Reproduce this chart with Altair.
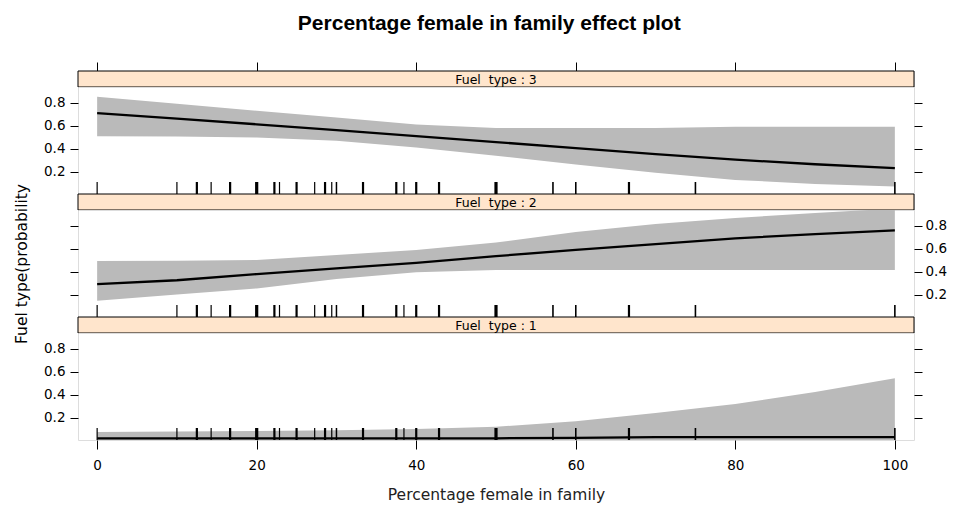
import altair as alt
import pandas as pd

# ---------------- data ----------------
x_grid = [0, 10, 20, 30, 40, 50, 60, 70, 80, 90, 100]

fit3 = [0.710, 0.662, 0.612, 0.561, 0.510, 0.457, 0.404, 0.352, 0.304, 0.264, 0.231]
up3 = [0.852, 0.791, 0.730, 0.671, 0.610, 0.579, 0.579, 0.579, 0.591, 0.591, 0.591]
lo3 = [0.507, 0.505, 0.497, 0.468, 0.411, 0.339, 0.262, 0.190, 0.128, 0.092, 0.070]

fit2 = [0.291, 0.325, 0.379, 0.429, 0.476, 0.535, 0.589, 0.639, 0.690, 0.727, 0.760]
up2 = [0.493, 0.496, 0.502, 0.546, 0.589, 0.654, 0.745, 0.815, 0.868, 0.911, 0.950]
lo2 = [0.146, 0.201, 0.254, 0.335, 0.394, 0.414, 0.414, 0.414, 0.414, 0.414, 0.414]

fit1 = [0.020, 0.020, 0.020, 0.020, 0.020, 0.020, 0.024, 0.030, 0.030, 0.030, 0.030]
up1 = [0.075, 0.078, 0.083, 0.090, 0.100, 0.120, 0.168, 0.240, 0.318, 0.423, 0.542]
lo1 = [0.0, 0.0, 0.0, 0.0, 0.0, 0.0, 0.0, 0.0, 0.0, 0.0, 0.0]

rug_x = [0, 10, 12.5, 14.29, 16.67, 20, 22.22, 22.86, 25, 27.27, 28.57, 29.41, 30,
         33.33, 37.5, 38.46, 40, 42.86, 50, 57.14, 60, 66.67, 75, 100]
rug_w = [1.2, 1.2, 2.2, 1.2, 2.2, 3.2, 2.2, 1.2, 2.2, 1.2, 2.2, 1.2, 1.5,
         2.2, 2.2, 1.2, 2.2, 2.2, 3.2, 1.6, 1.6, 2.2, 1.6, 1.6]

x_ticks = [0, 20, 40, 60, 80, 100]
y_ticks = [0.2, 0.4, 0.6, 0.8]

strip_labels = ["Fuel\u00a0 type : 3", "Fuel\u00a0 type : 2", "Fuel\u00a0 type : 1"]
title_text = "Percentage female in family effect plot"
x_title = "Percentage female in family"
y_title = "Fuel type(probability"

# ---------------- layout ----------------
W = 836
PH = 107
SH = 16
XDOM = [-2.4, 102.4]
YDOM = [0.005, 0.937]
FONT = "DejaVu Sans"
BAND = "#BABABA"
STRIP = "#FFE5CC"

rug_df = pd.DataFrame({"x": rug_x, "w": rug_w})


def xs():
    return alt.Scale(domain=XDOM, nice=False, zero=False)


def ys():
    return alt.Scale(domain=YDOM, nice=False, zero=False)


def strip(label, top_axis):
    df = pd.DataFrame({"x0": [XDOM[0]], "x1": [XDOM[1]], "label": [label]})
    if top_axis:
        ax = alt.Axis(orient="top", values=x_ticks, labels=False, ticks=True, tickSize=9,
                      tickColor="black", domain=False, grid=False, title=None)
    else:
        ax = None
    rect = alt.Chart(df).mark_rect(fill=STRIP, stroke="black", strokeWidth=1).encode(
        x=alt.X("x0:Q", scale=xs(), axis=ax),
        x2="x1:Q",
        y=alt.value(0),
        y2=alt.value(SH),
    )
    txt = alt.Chart(df).mark_text(font=FONT, fontSize=12.5, baseline="middle", color="black").encode(
        x=alt.value(W / 2), y=alt.value(SH / 2 + 0.5), text="label:N"
    )
    return alt.layer(rect, txt).properties(width=W, height=SH)


def yaxis(orient, labels, title=None):
    kw = dict(orient=orient, values=y_ticks, labels=labels, format=".1f", ticks=True, tickSize=8,
              tickColor="black", domain=False, grid=False, labelFont=FONT, labelFontSize=13.5,
              labelColor="black", labelPadding=5 if orient == "left" else 3)
    if title is None:
        kw["title"] = None
    else:
        kw.update(title=title, titleFont=FONT, titleFontSize=15.5, titleFontWeight="normal",
                  titleColor="black", titleAngle=-90, titleX=-52, titleY=PH / 2,
                  titleAlign="center", titleBaseline="alphabetic")
    return alt.Axis(**kw)


def panel(fit, up, lo, left_labels, bottom_axis, ytitle=None):
    df = pd.DataFrame({"x": x_grid, "fit": fit, "up": up, "lo": lo})
    if bottom_axis:
        xax = alt.Axis(values=x_ticks, tickSize=9, tickColor="black", domain=False, grid=False,
                       labelFont=FONT, labelFontSize=13.5, labelColor="black", labelPadding=9,
                       title=x_title, titleFont=FONT, titleFontSize=15.5, titleFontWeight="normal",
                       titleColor="#222222", titlePadding=16)
    else:
        xax = None
    band = alt.Chart(df).mark_area(color=BAND, opacity=1, clip=True).encode(
        x=alt.X("x:Q", scale=xs(), axis=xax),
        y=alt.Y("lo:Q", scale=ys(), axis=yaxis("left", left_labels, ytitle)),
        y2="up:Q",
    )
    line = alt.Chart(df).mark_line(color="black", strokeWidth=2.3, clip=True).encode(
        x=alt.X("x:Q", scale=xs()),
        y=alt.Y("fit:Q", scale=ys(), axis=None),
    )
    right = alt.Chart(df).mark_point(opacity=0).encode(
        x=alt.X("x:Q", scale=xs()),
        y=alt.Y("fit:Q", scale=ys(), axis=yaxis("right", not left_labels)),
    )
    rug = alt.Chart(rug_df).mark_rule(color="black").encode(
        x=alt.X("x:Q", scale=xs()),
        y=alt.value(PH - 12),
        y2=alt.value(PH),
        strokeWidth=alt.StrokeWidth("w:Q", scale=None, legend=None),
    )
    return (
        alt.layer(band, line, right, rug)
        .resolve_scale(y="independent")
        .properties(width=W, height=PH)
    )


chart = alt.vconcat(
    strip(strip_labels[0], True),
    panel(fit3, up3, lo3, True, False),
    strip(strip_labels[1], False),
    panel(fit2, up2, lo2, False, False, y_title),
    strip(strip_labels[2], False),
    panel(fit1, up1, lo1, True, True),
    spacing=0,
    bounds="flush",
).properties(
    title=alt.Title(title_text, font="Liberation Sans", fontSize=21, fontWeight="bold",
                    color="black", anchor="middle", offset=27, dx=9),
    padding={"left": 5, "top": 5, "right": 0, "bottom": 0},
).configure_view(stroke="black", strokeWidth=1).configure(background="white")

chart.save("out.html", embed_options={"renderer": "svg", "actions": False})
